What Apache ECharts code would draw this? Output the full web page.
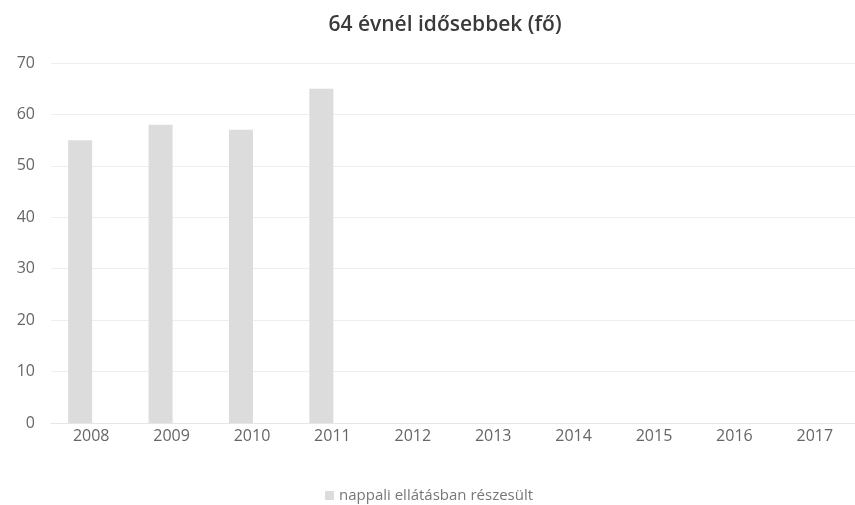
<!DOCTYPE html>
<html>
<head>
<meta charset="utf-8">
<script src="https://cdn.jsdelivr.net/npm/echarts@6/dist/echarts.min.js"></script>
<style>
  html, body { margin: 0; padding: 0; background: #fff; }
  #main { width: 855px; height: 505px; }
</style>
</head>
<body>
<div id="main"></div>
<script>
// évek és létszám
var years = ['2008', '2009', '2010', '2011', '2012', '2013', '2014', '2015', '2016', '2017'];
var nappali = [55, 58, 57, 65, null, null, null, null, null, null];
// üres második sor (az eredeti diagramon a hely foglalt, de nincs adat)
var masik = [null, null, null, null, null, null, null, null, null, null];
var yTicks = [0, 10, 20, 30, 40, 50, 60, 70];

var chart = echarts.init(document.getElementById('main'));

var option = {
  animation: false,
  title: {
    text: '64 évnél idősebbek (fő)',
    left: 440,
    top: 10,
    textAlign: 'center',
    textStyle: { fontFamily: 'Open Sans', fontSize: 21, fontWeight: 600, color: '#3a3a3a' }
  },
  legend: {
    data: ['nappali ellátásban részesült'],
    left: 320,
    top: 483,
    itemWidth: 9,
    itemHeight: 9,
    itemGap: 6,
    icon: 'rect',
    textStyle: { fontFamily: 'Open Sans', fontSize: 15, color: '#777' }
  },
  grid: { left: 51, top: 63, width: 817, height: 360 },
  xAxis: {
    type: 'category',
    data: years,
    axisLine: { lineStyle: { color: '#e6e6e6' } },
    axisTick: { show: false },
    axisLabel: { fontFamily: 'Open Sans', fontSize: 16, color: '#666', margin: 5 }
  },
  yAxis: {
    type: 'value',
    min: yTicks[0],
    max: yTicks[yTicks.length - 1],
    interval: 10,
    axisLine: { show: false },
    axisTick: { show: false },
    splitLine: { lineStyle: { color: '#eeeeee' } },
    axisLabel: { fontFamily: 'Open Sans', fontSize: 16, color: '#666', margin: 16 }
  },
  series: [
    {
      name: 'nappali ellátásban részesült',
      type: 'bar',
      data: nappali,
      barWidth: 24,
      barGap: '-8%',
      itemStyle: { color: '#dcdcdc' }
    },
    {
      name: '',
      type: 'bar',
      data: masik,
      barWidth: 24,
      itemStyle: { color: '#dcdcdc' }
    }
  ]
};

chart.setOption(option);
</script>
</body>
</html>
